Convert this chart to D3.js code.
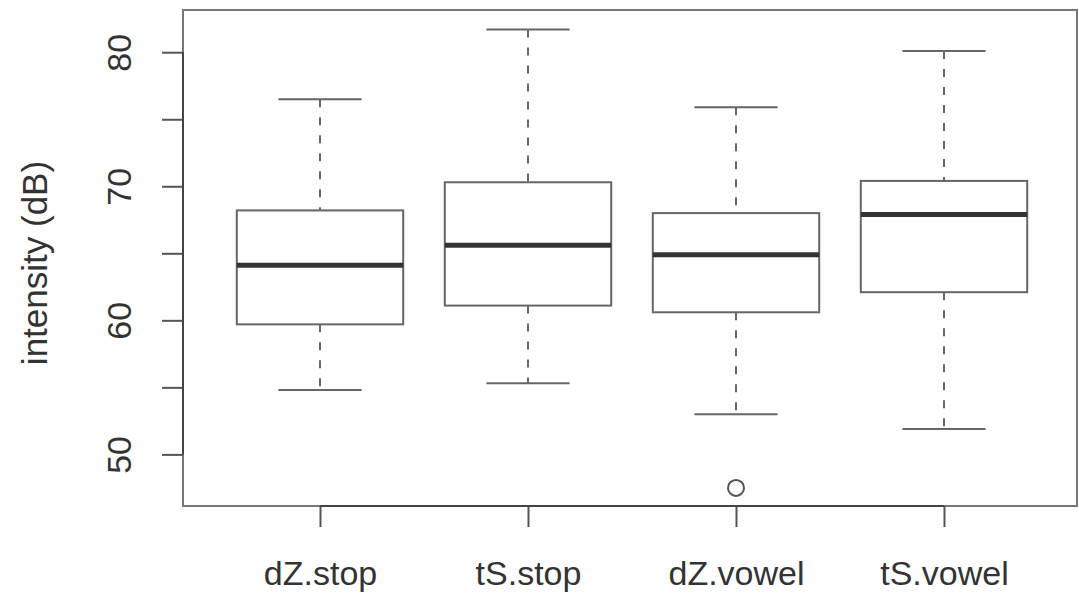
<!DOCTYPE html>
<html>
<head>
<meta charset="utf-8">
<script src="https://cdn.jsdelivr.net/npm/d3@7"></script>
<style>
  body { margin: 0; background: #fff; }
  text { font-family: "Liberation Sans", Arial, Helvetica, sans-serif; fill: #333; }
</style>
</head>
<body>
<div id="chart"></div>
<script>
// values
const groups   = ["dZ.stop", "tS.stop", "dZ.vowel", "tS.vowel"];
const whiskLo  = [54.8, 55.3, 53.0, 51.9];
const q1       = [59.7, 61.1, 60.6, 62.1];
const medians  = [64.1, 65.6, 64.9, 67.9];
const q3       = [68.2, 70.3, 68.0, 70.4];
const whiskHi  = [76.5, 81.7, 75.9, 80.1];
const outliers = [{ g: 2, v: 47.5 }];
const yTicks   = [50, 55, 60, 65, 70, 75, 80];
const yLabels  = [50, 60, 70, 80];

const svgWidth = 1079, svgHeight = 597;
const plot = { left: 183, right: 1077, top: 10, bottom: 506 };

const svg = d3.select("#chart").append("svg")
    .attr("width", svgWidth)
    .attr("height", svgHeight);

// scales (R style: groups at 1..n)
const xScale = d3.scaleLinear().domain([1, 4]).range([320, 944]);
const yScale = d3.scaleLinear().domain([46.15, 83.15]).range([plot.bottom, plot.top]);
const unit = xScale(2) - xScale(1);
const boxW = unit * 0.8;
const capW = boxW / 2;

const boxes = groups.map((g, i) => ({
    i: i, name: g, lo: whiskLo[i], q1: q1[i], med: medians[i], q3: q3[i], hi: whiskHi[i]
}));

// plot frame
svg.append("rect")
    .attr("x", plot.left)
    .attr("y", plot.top)
    .attr("width", plot.right - plot.left)
    .attr("height", plot.bottom - plot.top)
    .style("fill", "none")
    .style("stroke", "#777")
    .style("stroke-width", 2);

const g = svg.selectAll(".box").data(boxes).enter().append("g").attr("class", "box");

// dashed whiskers
g.append("line")
    .attr("x1", d => xScale(d.i + 1)).attr("x2", d => xScale(d.i + 1))
    .attr("y1", d => yScale(d.hi)).attr("y2", d => yScale(d.q3))
    .style("stroke", "#666").style("stroke-width", 2).style("stroke-dasharray", "8,10");
g.append("line")
    .attr("x1", d => xScale(d.i + 1)).attr("x2", d => xScale(d.i + 1))
    .attr("y1", d => yScale(d.q1)).attr("y2", d => yScale(d.lo))
    .style("stroke", "#666").style("stroke-width", 2).style("stroke-dasharray", "8,10");

// whisker caps
["hi", "lo"].forEach(k => {
    g.append("line")
        .attr("x1", d => xScale(d.i + 1) - capW / 2)
        .attr("x2", d => xScale(d.i + 1) + capW / 2)
        .attr("y1", d => yScale(d[k])).attr("y2", d => yScale(d[k]))
        .style("stroke", "#666").style("stroke-width", 2);
});

// boxes
g.append("rect")
    .attr("x", d => xScale(d.i + 1) - boxW / 2)
    .attr("y", d => yScale(d.q3))
    .attr("width", boxW)
    .attr("height", d => yScale(d.q1) - yScale(d.q3))
    .style("fill", "#fff")
    .style("stroke", "#666")
    .style("stroke-width", 2);

// medians
g.append("line")
    .attr("x1", d => xScale(d.i + 1) - boxW / 2)
    .attr("x2", d => xScale(d.i + 1) + boxW / 2)
    .attr("y1", d => yScale(d.med)).attr("y2", d => yScale(d.med))
    .style("stroke", "#333").style("stroke-width", 5);

// outliers
svg.selectAll(".outlier").data(outliers).enter().append("circle")
    .attr("cx", d => xScale(d.g + 1))
    .attr("cy", d => yScale(d.v))
    .attr("r", 8)
    .style("fill", "none")
    .style("stroke", "#555")
    .style("stroke-width", 2);

// y axis
const yAxis = d3.axisLeft(yScale).tickValues(yTicks).tickSize(21)
    .tickFormat(d => yLabels.includes(d) ? d : "");
const ya = svg.append("g")
    .attr("transform", "translate(" + plot.left + ",0)")
    .call(yAxis);
ya.select(".domain").remove();
ya.selectAll(".tick line").style("stroke", "#555").style("stroke-width", 2);
ya.append("line")
    .attr("x1", 0).attr("x2", 0)
    .attr("y1", yScale(d3.min(yTicks))).attr("y2", yScale(d3.max(yTicks)))
    .style("stroke", "#444").style("stroke-width", 2);
ya.selectAll(".tick text")
    .attr("x", 0).attr("y", 0)
    .attr("dy", 0)
    .attr("transform", "translate(-52,0) rotate(-90)")
    .attr("text-anchor", "middle")
    .style("font-size", "34px")
    .style("fill", "#333");

// x axis
const xAxis = d3.axisBottom(xScale).tickValues([1, 2, 3, 4]).tickSize(21)
    .tickFormat(d => groups[d - 1]);
const xa = svg.append("g")
    .attr("transform", "translate(0," + plot.bottom + ")")
    .call(xAxis);
xa.select(".domain").remove();
xa.selectAll(".tick line").style("stroke", "#555").style("stroke-width", 2);
xa.append("line")
    .attr("x1", xScale(1)).attr("x2", xScale(4))
    .attr("y1", 0).attr("y2", 0)
    .style("stroke", "#444").style("stroke-width", 2);
xa.selectAll(".tick text")
    .attr("y", 79).attr("dy", 0)
    .style("font-size", "34px")
    .style("fill", "#333");

// axis title
svg.append("text")
    .attr("transform", "translate(47," + 263 + ") rotate(-90)")
    .attr("text-anchor", "middle")
    .style("font-size", "35px")
    .text("intensity (dB)");
</script>
</body>
</html>
